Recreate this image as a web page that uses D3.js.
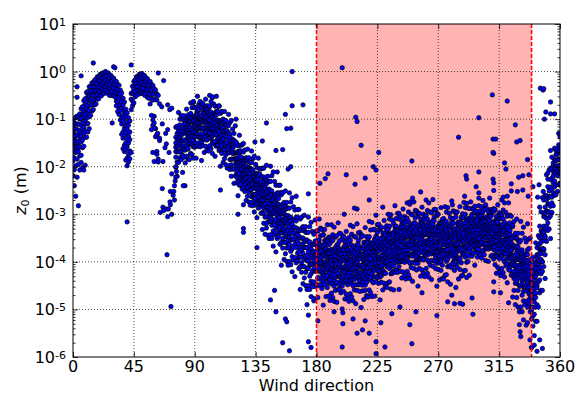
<!DOCTYPE html>
<html>
<head>
<meta charset="utf-8">
<script src="https://cdn.jsdelivr.net/npm/d3@7/dist/d3.min.js"></script>
<style>
  body { margin: 0; background: #fff; }
  svg text { font-family: "DejaVu Sans", sans-serif; fill: #000; }
</style>
</head>
<body>
<svg id="chart" width="577" height="397"></svg>
<script>
// roughness length as log10(z0 / m), grouped by wind direction (deg)
// each entry: [direction, [log10 z0 values seen at that direction]]
var northHump = [
  [0,[-1.03,-1.24,-1.33,-1.51,-1.58,-1.8,-1.88,-2.19,-1.41,-1.12]],
  [1,[-1.08,-1.31,-1.49,-1.69,-1.82,-2.06,-1.4,-2.4,-1.21]],
  [2,[-0.96,-1.2,-1.35,-1.61,-1.7,-1.98,-2.62,-1.47]],
  [3,[-0.94,-1.1,-1.33,-1.52,-1.84,-1.63,-2.22,-0.32,-0.54]],
  [4,[-0.93,-1.11,-1.23,-1.46,-1.68,-1.95,-2.82,-1.57]],
  [5,[-0.89,-1.0,-1.27,-1.37,-1.58,-1.77,-2.07]],
  [6,[-0.09,-0.78,-0.99,-1.13,-1.35,-1.48,-1.76,-1.91]],
  [7,[-0.74,-0.88,-1.08,-1.21,-1.44,-1.6,-2.02]],
  [8,[-0.61,-0.84,-0.95,-1.17,-1.3,-1.57,-2.07]],
  [9,[-0.57,-0.68,-0.9,-1.03,-1.25,-1.38,-1.97]],
  [10,[-0.44,-0.63,-0.77,-0.97,-1.1,-1.38]],
  [11,[-0.42,-0.52,-0.72,-0.86,-1.09,-1.27]],
  [12,[-0.32,-0.51,-0.61,-0.82,-0.95,-1.2]],
  [13,[-0.31,-0.42,-0.6,-0.71,-0.92]],
  [14,[-0.24,-0.41,-0.5,-0.7,-0.83]],
  [15,[0.18,-0.23,-0.33,-0.5,-0.61,-0.8]],
  [16,[-0.18,-0.33,-0.41,-0.58,-0.7]],
  [17,[-0.16,-0.25,-0.4,-0.5,-0.68]],
  [18,[-0.11,-0.25,-0.33,-0.49,-0.58]],
  [19,[-0.11,-0.18,-0.33,-0.41,-0.57]],
  [20,[-0.06,-0.19,-0.26,-0.42,-0.5]],
  [21,[-0.06,-0.13,-0.27,-0.35,-0.51]],
  [22,[-0.03,-0.16,-0.22,-0.37,-0.44]],
  [23,[-0.04,-0.1,-0.24,-0.31,-0.46]],
  [24,[0.0,-0.12,-0.18,-0.33,-0.4]],
  [25,[-0.04,-0.1,-0.24,-0.3,-0.45]],
  [26,[-0.03,-0.16,-0.22,-0.37,-0.43]],
  [27,[-0.07,-0.14,-0.28,-0.35,-0.5]],
  [28,[-0.08,-0.21,-0.27,-0.42,-0.5]],
  [29,[-0.13,-0.2,-0.34,-0.42,-1.08]],
  [30,[0.1,-0.14,-0.28,-0.35,-0.51]],
  [31,[0.08,-0.2,-0.28,-0.44,-0.53]],
  [32,[-0.21,-0.37,-0.45,-0.62,-0.72]],
  [33,[-0.27,-0.38,-0.55,-0.64,-0.84]],
  [34,[-0.29,-0.47,-0.58,-0.77,-0.9]],
  [35,[-0.39,-0.5,-0.7,-0.82,-1.02]],
  [36,[-0.45,-0.64,-0.76,-0.97,-1.1,-1.32]],
  [37,[-0.56,-0.7,-0.92,-1.05,-1.27,-1.4,-1.62]],
  [38,[-0.64,-0.84,-0.98,-1.19,-1.33,-1.55,-1.68]],
  [39,[-0.79,-0.93,-1.14,-1.28,-1.5,-1.64,-1.86]],
  [40,[-0.87,-1.07,-1.2,-1.42,-1.58,-1.82,-1.98,-3.16]],
  [41,[-0.97,-1.13,-1.36,-1.5,-1.74,-1.9]],
  [42,[-1.04,-1.27,-1.43,-1.67,-1.83]]
];

var eastHump = [
  [43,[-0.46,-0.58,-0.8,0.14,-1.7]],
  [44,[-0.31,-0.44,-0.62,-0.72]],
  [45,[-0.21,-0.37,-0.47,-0.66]],
  [46,[-0.17,-0.26,-0.42,-0.53]],
  [47,[-0.11,-0.24,-0.33,-0.5]],
  [48,[-0.1,-0.17,-0.32,-0.4]],
  [49,[-0.06,-0.18,-0.25,-0.4,-0.47]],
  [50,[-0.06,-0.13,-0.28,-0.35,-0.44]],
  [51,[-0.04,-0.16,-0.23,-0.38,-0.46]],
  [52,[-0.08,-0.14,-0.29,-0.36,-0.45]],
  [53,[-0.09,-0.21,-0.28,-0.44,-0.5]],
  [54,[-0.14,-0.21,-0.37,-0.45]],
  [55,[-0.15,-0.29,-0.38,-0.54]],
  [56,[-0.2,-0.29,-0.46,-0.56]],
  [57,[-0.21,-0.37,-0.48,-0.68]],
  [58,[-0.27,-0.38,-0.57,-0.92]],
  [59,[-0.29,-0.47,-0.6,-1.02,-1.13]],
  [60,[-0.36,-0.48,-0.94,-1.08]],
  [61,[-0.39,-0.58,-1.2,-1.37]],
  [62,[-0.47,-0.6,-1.32,-1.68]],
  [63,[-0.5,-0.03,-1.84,-1.9]],
  [64,[-0.68,-1.45]]
];

var eastCluster = [
  [76,[-1.59,-1.8,-1.38,-2.01,-1.17,-1.68,-1.5]],
  [77,[-1.57,-1.3,-1.69,-1.9,-1.15,-2.2,-1.42]],
  [78,[-1.67,-1.19,-1.43,-1.91,-1.25,-1.55,-0.86]],
  [79,[-1.51,-1.3,-1.69,-1.12,-1.81,-1.39,-1.0]],
  [80,[-1.25,-1.46,-1.67,-0.92,-1.85,-1.34,-1.58]],
  [81,[-1.46,-1.19,-1.76,-1.31,-1.01,-1.61,-2.12]],
  [82,[-1.65,-1.26,-1.44,-0.93,-1.56,-1.11,-1.8]],
  [83,[-1.44,-1.2,-1.65,-1.02,-1.92,-1.29,-1.08]],
  [84,[-1.21,-1.6,-1.3,-1.03,-1.48,-1.78,-0.79,-1.18,-1.57,-1.27,-1.0]],
  [85,[-1.24,-1.63,-1.0,-1.39,-1.84,-1.12,-0.91,-1.22,-1.61,-0.98,-1.37]],
  [86,[-1.19,-1.52,-1.07,-1.4,-0.95,-1.85,-1.31,-1.17,-1.5,-1.05,-1.38]],
  [87,[-1.47,-1.2,-0.9,-1.74,-1.05,-1.35,-0.66,-1.45,-1.18,-0.88,-1.72]],
  [88,[-1.0,-1.36,-1.24,-1.54,-0.76,-1.75,-1.06,-0.98,-1.34,-1.22,-1.52]],
  [89,[-1.07,-1.31,-0.65,-1.46,-1.16,-1.58,-1.82,-1.05,-1.29,-0.63,-1.44]],
  [90,[-1.17,-1.38,-0.96,-1.59,-0.75,-1.26,-1.08,-1.15,-1.36,-0.94,-1.57]],
  [91,[-1.19,-0.92,-1.31,-1.52,-0.77,-1.82,-1.04,-1.17,-0.9,-1.29,-1.5]],
  [92,[-1.33,-0.85,-1.09,-1.57,-0.91,-1.21,-0.52,-1.31,-0.83,-1.07,-1.55]],
  [93,[-1.2,-0.99,-1.38,-0.81,-1.5,-1.08,-0.69,-1.18,-0.97,-1.36,-0.79]],
  [94,[-0.98,-1.19,-1.4,-0.65,-1.58,-1.07,-1.31,-0.96,-1.17,-1.38,-0.63]],
  [95,[-1.21,-0.94,-1.51,-1.06,-0.76,-1.36,-1.87,-1.19,-0.92,-1.49,-1.04]],
  [96,[-1.41,-1.02,-1.2,-0.69,-1.32,-0.87,-1.56,-1.39,-1.0,-1.18,-0.67]],
  [97,[-1.22,-0.98,-1.43,-0.8,-1.7,-1.07,-0.86,-1.2,-0.96,-1.41,-0.78]],
  [98,[-1.0,-1.39,-1.09,-0.82,-1.27,-1.57,-0.58,-0.98,-1.37,-1.07,-0.8]],
  [99,[-1.05,-1.44,-0.81,-1.2,-1.65,-0.93,-0.72,-1.03,-1.42,-0.79,-1.18]],
  [100,[-1.01,-1.34,-0.89,-1.22,-0.77,-1.67,-1.13,-0.99,-1.32,-0.87,-1.2]],
  [101,[-1.31,-1.04,-0.74,-1.58,-0.89,-1.19,-0.5,-1.29,-1.02,-0.72,-1.56]],
  [102,[-0.87,-1.23,-1.11,-1.41,-0.63,-1.62,-0.93,-0.85,-1.21,-1.09,-1.39]],
  [103,[-0.97,-1.21,-0.55,-1.36,-1.06,-1.48,-1.72,-0.95,-1.19,-0.53,-1.34]],
  [104,[-1.1,-1.31,-0.89,-1.52,-0.68,-1.19,-1.01,-1.09,-1.3,-0.88,-1.51]],
  [105,[-1.15,-0.88,-1.27,-1.48,-0.73,-1.78,-1.0,-1.14,-0.87,-1.26,-1.47]],
  [106,[-1.33,-0.85,-1.09,-1.57,-0.91,-1.21,-0.52,-1.32,-0.84,-1.08,-1.56]],
  [107,[-1.24,-1.03,-1.42,-0.85,-1.54,-1.12,-0.73,-1.23,-1.02,-1.41,-0.84]],
  [108,[-1.06,-1.27,-1.48,-0.73,-1.66,-1.15,-1.39,-1.05,-1.26,-1.47,-0.72]],
  [109,[-1.33,-1.06,-1.63,-1.18,-0.88,-1.48,-1.99,-1.32,-1.05,-1.62,-1.17]],
  [110,[-1.57,-1.18,-1.36,-0.85,-1.48,-1.03,-1.72,-1.56,-1.17,-1.35,-0.84]],
  [111,[-1.43,-1.19,-1.64,-1.01,-1.91,-1.28,-1.07,-1.42,-1.18,-1.63,-1.0]],
  [112,[-1.26,-1.65,-1.35,-1.08,-1.53,-1.83,-0.84,-1.25,-1.64,-1.34,-1.07]],
  [113,[-1.36,-1.75,-1.12,-1.51,-1.96,-1.24,-1.03]],
  [114,[-1.37,-1.7,-1.25,-1.58,-1.13,-2.03,-1.49]],
  [115,[-1.71,-1.44,-1.14,-1.98,-1.29,-1.59,-0.9]],
  [116,[-1.31,-1.67,-1.55,-1.85,-1.07,-2.06,-1.37]],
  [117,[-1.45,-1.69,-1.03,-1.84,-1.54,-1.96,-2.2]],
  [118,[-1.63,-1.84,-1.42,-2.05,-1.21,-1.72,-1.54]],
  [119,[-1.72,-1.45,-1.84,-2.05,-1.3,-2.35,-1.57]],
  [120,[-1.95,-1.47,-1.71,-2.19,-1.53,-1.83,-1.14]]
];

var southEastSlope = [
  [121,[-1.92,-2.13,-1.71,-2.34,-1.5,-2.01,-1.83,-1.83,-2.22,-1.92]],
  [122,[-1.98,-1.71,-2.1,-2.31,-1.56,-2.61,-1.83,-1.92,-2.31,-1.68]],
  [123,[-2.15,-1.67,-1.91,-2.39,-1.73,-2.03,-1.34,-1.91,-2.24,-1.79]],
  [124,[-2.06,-1.85,-2.24,-1.67,-2.36,-1.94,-1.55,-2.24,-1.97,-1.67]],
  [125,[-1.87,-2.08,-2.29,-1.54,-2.47,-1.96,-2.2,-1.81,-2.17,-2.05]],
  [126,[-2.14,-1.87,-2.44,-1.99,-1.69,-2.29,-2.8,-1.93,-2.17,-1.51]],
  [127,[-2.37,-1.98,-2.16,-1.65,-2.28,-1.83,-2.52,-2.07,-2.28,-1.86]],
  [128,[-2.23,-1.99,-2.44,-1.81,-2.71,-2.08,-1.87,-2.14,-1.87,-2.26]],
  [129,[-2.05,-2.44,-2.14,-1.87,-2.32,-2.62,-1.63,-2.32,-1.84,-2.08]],
  [130,[-2.14,-2.53,-1.9,-2.29,-2.74,-2.02,-1.81,-2.23,-2.02,-2.41]],
  [131,[-2.15,-2.48,-2.03,-2.36,-1.91,-2.81,-2.27,-2.06,-2.27,-2.48]],
  [132,[-2.48,-2.21,-1.91,-2.75,-2.06,-2.36,-1.67,-2.33,-2.06,-2.63]],
  [133,[-2.07,-2.43,-2.31,-2.61,-1.83,-2.82,-2.13,-2.58,-2.19,-2.37]],
  [134,[-2.2,-2.44,-1.78,-2.59,-2.29,-2.71,-2.95,-2.44,-2.2,-2.65]],
  [135,[-2.37,-2.58,-2.16,-2.79,-1.95,-2.46,-2.28,-2.28,-2.67,-2.37]],
  [136,[-2.44,-2.17,-2.56,-2.77,-2.02,-3.07,-2.29,-2.38,-2.77,-2.14]],
  [137,[-2.63,-2.15,-2.39,-2.87,-2.21,-2.51,-1.82,-2.39,-2.72,-2.27]],
  [138,[-2.55,-2.34,-2.73,-2.16,-2.85,-2.43,-2.04,-2.73,-2.46,-2.16]],
  [139,[-2.38,-2.59,-2.8,-2.05,-2.98,-2.47,-2.71,-2.32,-2.68,-2.56]],
  [140,[-2.66,-2.39,-2.96,-2.51,-2.21,-2.81,-3.32,-2.45,-2.69,-2.03]],
  [141,[-2.99,-2.47,-2.71,-2.03,-2.87,-2.27,-3.19,-2.6,-2.81,-2.39]],
  [142,[-2.78,-2.46,-3.06,-2.22,-3.42,-2.58,-2.3,-2.66,-2.39,-2.78]],
  [143,[-2.53,-3.05,-2.65,-2.29,-2.89,-3.29,-1.97,-2.84,-2.36,-2.6]],
  [144,[-2.64,-3.16,-2.32,-2.84,-3.44,-2.48,-2.2,-2.75,-2.54,-2.93]],
  [145,[-2.63,-3.07,-2.47,-2.91,-2.31,-3.51,-2.79,-2.57,-2.78,-2.99]],
  [146,[-3.07,-2.71,-2.31,-3.43,-2.51,-2.91,-1.99,-2.85,-2.58,-3.15]],
  [147,[-2.51,-2.99,-2.83,-3.23,-2.19,-3.51,-2.59,-3.1,-2.71,-2.89]],
  [148,[-2.67,-2.99,-2.11,-3.19,-2.79,-3.35,-3.67,-2.96,-2.72,-3.17]],
  [149,[-2.87,-3.15,-2.59,-3.43,-2.31,-2.99,-2.75,-2.79,-3.18,-2.88]],
  [150,[-2.95,-2.59,-3.11,-3.39,-2.39,-3.79,-2.75,-2.89,-3.28,-2.65]],
  [151,[-3.19,-2.55,-2.87,-3.51,-2.63,-3.03,-2.11,-2.9,-3.23,-2.78]],
  [152,[-3.07,-2.79,-3.31,-2.55,-3.47,-2.91,-2.39,-3.24,-2.97,-2.67]],
  [153,[-2.83,-3.11,-3.39,-2.39,-3.63,-2.95,-3.27,-2.83,-3.19,-3.07]],
  [154,[-3.19,-2.83,-3.59,-2.99,-2.59,-3.39,-4.07,-2.96,-3.2,-2.54]],
  [155,[-3.51,-2.99,-3.23,-2.55,-3.39,-2.79,-3.71,-3.12,-3.33,-2.91]],
  [156,[-3.31,-2.99,-3.59,-2.75,-3.95,-3.11,-2.83,-3.19,-2.92,-3.31]],
  [157,[-3.07,-3.59,-3.19,-2.83,-3.43,-3.83,-2.51,-3.38,-2.9,-3.14]],
  [158,[-3.19,-3.71,-2.87,-3.39,-3.99,-3.03,-2.75,-3.3,-3.09,-3.48]],
  [159,[-3.19,-3.63,-3.03,-3.47,-2.87,-4.07,-3.35,-3.13,-3.34,-3.55]],
  [160,[-3.63,-3.27,-2.87,-3.99,-3.07,-3.47,-2.55,-3.41,-3.14,-3.71]],
  [161,[-3.06,-3.54,-3.38,-3.78,-2.74,-4.06,-3.14]],
  [162,[-3.21,-3.53,-2.65,-3.73,-3.33,-3.89,-4.21]],
  [163,[-3.4,-3.68,-3.12,-3.96,-2.84,-3.52,-3.28]],
  [164,[-3.47,-3.11,-3.63,-3.91,-2.91,-4.31,-3.27]],
  [165,[-3.7,-3.06,-3.38,-4.02,-3.14,-3.54,-2.62]],
  [166,[-3.58,-3.3,-3.82,-3.06,-3.98,-3.42,-2.9]],
  [167,[-3.34,-3.62,-3.9,-2.9,-4.14,-3.46,-3.78]],
  [168,[-3.7,-3.34,-4.1,-3.5,-3.1,-3.9,-4.58]],
  [169,[-4.02,-3.5,-3.74,-3.06,-3.9,-3.3,-4.22]],
  [170,[-3.82,-3.5,-4.1,-3.26,-4.46,-3.62,-3.34]],
  [171,[-3.58,-4.1,-3.7,-3.34,-3.94,-4.34,-3.02]],
  [172,[-3.7,-4.22,-3.38,-3.9,-4.5,-3.54,-3.26]],
  [173,[-3.7,-4.14,-3.54,-3.98,-3.38,-4.58,-3.86]],
  [174,[-4.14,-3.78,-3.38,-4.5,-3.58,-3.98,-3.06]],
  [175,[-3.58,-4.06,-3.9,-4.3,-3.26,-4.58,-3.66]],
  [176,[-3.73,-4.05,-3.17,-4.25,-3.85,-4.41,-4.73]],
  [177,[-3.92,-4.2,-3.64,-4.48,-3.36,-4.04,-3.8]],
  [178,[-3.98,-3.62,-4.14,-4.42,-3.42,-4.82,-3.78]],
  [179,[-4.2,-3.56,-3.88,-4.52,-3.64,-4.04,-3.12]]
];

var shadedSector = [
  [180,[-3.91,-4.19,-3.63,-4.47,-3.35,-4.03,-3.79,-3.78,-4.17,-3.87,-3.6]],
  [181,[-3.91,-3.55,-4.07,-4.35,-3.35,-4.75,-3.71,-3.94,-4.33,-3.7,-4.09]],
  [182,[-4.18,-3.54,-3.86,-4.5,-3.62,-4.02,-3.1,-3.81,-4.14,-3.69,-4.02]],
  [183,[-3.97,-3.69,-4.21,-3.45,-4.37,-3.81,-3.29,-4.21,-3.94,-3.64,-4.48]],
  [184,[-3.76,-4.04,-4.32,-3.32,-4.56,-3.88,-4.2,-3.66,-4.02,-3.9,-4.2]],
  [185,[-4.03,-3.67,-4.43,-3.83,-3.43,-4.23,-4.91,-3.85,-4.09,-3.43,-4.24]],
  [186,[-4.28,-3.76,-4.0,-3.32,-4.16,-3.56,-4.48,-3.87,-4.08,-3.66,-4.29]],
  [187,[-4.09,-3.77,-4.37,-3.53,-4.73,-3.89,-3.61,-4.0,-3.73,-4.12,-4.33]],
  [188,[-3.78,-4.3,-3.9,-3.54,-4.14,-4.54,-3.22,-4.05,-3.57,-3.81,-4.29]],
  [189,[-3.92,-4.44,-3.6,-4.12,-4.72,-3.76,-3.48,-4.03,-3.82,-4.21,-3.64]],
  [190,[-3.93,-4.37,-3.77,-4.21,-3.61,-4.81,-4.09,-3.82,-4.03,-4.24,-3.49]],
  [191,[-4.3,-3.94,-3.54,-4.66,-3.74,-4.14,-3.22,-4.16,-3.89,-4.46,-4.01]],
  [192,[-3.75,-4.23,-4.07,-4.47,-3.43,-4.75,-3.83,-4.27,-3.88,-4.06,-3.55]],
  [193,[-3.83,-4.15,-3.27,-4.35,-3.95,-4.51,-4.83,-4.19,-3.95,-4.4,-3.77]],
  [194,[-4.04,-4.32,-3.76,-4.6,-3.48,-4.16,-3.92,-3.88,-4.27,-3.97,-3.7]],
  [195,[-4.01,-3.65,-4.17,-4.45,-3.45,-4.85,-3.81,-4.04,-4.43,-3.8,-4.19]],
  [196,[-4.26,-3.62,-3.94,-4.58,-3.7,-4.1,-3.18,-3.91,-4.24,-3.79,-4.12]],
  [197,[-4.08,-3.8,-4.32,-3.56,-4.48,-3.92,-3.4,-4.31,-4.04,-3.74,-4.58]],
  [198,[-3.85,-4.13,-4.41,-3.41,-4.65,-3.97,-4.29,-3.76,-4.12,-4.0,-4.3]],
  [199,[-4.11,-3.75,-4.51,-3.91,-3.51,-4.31,-4.99,-3.95,-4.19,-3.53,-4.34]],
  [200,[-4.42,-3.9,-4.14,-3.46,-4.3,-3.7,-4.62,-3.97,-4.18,-3.76,-4.39]],
  [201,[-4.14,-3.82,-4.42,-3.58,-4.78,-3.94,-3.66,-4.1,-3.83,-4.22,-4.43]],
  [202,[-3.92,-4.44,-4.04,-3.68,-4.28,-4.68,-3.36,-4.15,-3.67,-3.91,-4.39]],
  [203,[-3.96,-4.48,-3.64,-4.16,-4.76,-3.8,-3.52,-4.13,-3.92,-4.31,-3.74]],
  [204,[-3.95,-4.39,-3.79,-4.23,-3.63,-4.83,-4.11,-3.82,-4.03,-4.24,-3.49]],
  [205,[-4.31,-3.95,-3.55,-4.67,-3.75,-4.15,-3.23,-4.11,-3.84,-4.41,-3.96]],
  [206,[-3.74,-4.22,-4.06,-4.46,-3.42,-4.74,-3.82,-4.37,-3.98,-4.16,-3.65]],
  [207,[-3.82,-4.14,-3.26,-4.34,-3.94,-4.5,-4.82,-4.09,-3.85,-4.3,-3.67]],
  [208,[-4.03,-4.31,-3.75,-4.59,-3.47,-4.15,-3.91,-3.98,-4.37,-4.07,-3.8]],
  [209,[-4.04,-3.68,-4.2,-4.48,-3.48,-4.88,-3.84,-3.94,-4.33,-3.7,-4.09]],
  [210,[-4.28,-3.64,-3.96,-4.6,-3.72,-4.12,-3.2,-4.01,-4.34,-3.89,-4.22]],
  [211,[-4.07,-3.79,-4.31,-3.55,-4.47,-3.91,-3.39,-4.21,-3.94,-3.64,-4.48]],
  [212,[-3.82,-4.1,-4.38,-3.38,-4.62,-3.94,-4.26,-3.86,-4.22,-4.1,-4.4]],
  [213,[-4.08,-3.72,-4.48,-3.88,-3.48,-4.28,-4.96,-3.85,-4.09,-3.43,-4.24]],
  [214,[-4.41,-3.89,-4.13,-3.45,-4.29,-3.69,-4.61,-4.07,-4.28,-3.86,-4.49]],
  [215,[-4.15,-3.83,-4.43,-3.59,-4.79,-3.95,-3.67,-4.0,-3.73,-4.12,-4.33]],
  [216,[-3.84,-4.36,-3.96,-3.6,-4.2,-4.6,-3.28,-4.25,-3.77,-4.01,-4.49]],
  [217,[-3.91,-4.43,-3.59,-4.11,-4.71,-3.75,-3.47,-4.03,-3.82,-4.21,-3.64]],
  [218,[-3.86,-4.3,-3.7,-4.14,-3.54,-4.74,-4.02,-3.92,-4.13,-4.34,-3.59]],
  [219,[-4.23,-3.87,-3.47,-4.59,-3.67,-4.07,-3.15,-4.06,-3.79,-4.36,-3.91]],
  [220,[-3.65,-4.13,-3.97,-4.37,-3.33,-4.65,-3.73,-4.32,-3.93,-4.11,-3.6]],
  [221,[-3.73,-4.05,-3.17,-4.25,-3.85,-4.41,-4.73,-4.04,-3.8,-4.25,-3.62]],
  [222,[-3.88,-4.16,-3.6,-4.44,-3.32,-4.0,-3.76,-3.78,-4.17,-3.87,-3.6]],
  [223,[-3.88,-3.52,-4.04,-4.32,-3.32,-4.72,-3.68,-3.79,-4.18,-3.55,-3.94]],
  [224,[-4.1,-3.46,-3.78,-4.42,-3.54,-3.94,-3.02,-3.81,-4.14,-3.69,-4.02]],
  [225,[-3.9,-3.62,-4.14,-3.38,-4.3,-3.74,-3.22,-4.06,-3.79,-3.49,-4.33]],
  [226,[-3.65,-3.93,-4.21,-3.21,-4.45,-3.77,-4.09,-3.66,-4.02,-3.9,-4.2]],
  [227,[-3.92,-3.56,-4.32,-3.72,-3.32,-4.12,-4.8,-3.7,-3.94,-3.28,-4.09]],
  [228,[-4.23,-3.71,-3.95,-3.27,-4.11,-3.51,-4.43,-3.87,-4.08,-3.66,-4.29]],
  [229,[-3.95,-3.63,-4.23,-3.39,-4.59,-3.75,-3.47,-3.85,-3.58,-3.97,-4.18]],
  [230,[-3.69,-4.21,-3.81,-3.45,-4.05,-4.45,-3.13,-4.0,-3.52,-3.76,-4.24]],
  [231,[-3.72,-4.24,-3.4,-3.92,-4.52,-3.56,-3.28,-3.83,-3.62,-4.01,-3.44]],
  [232,[-3.66,-4.1,-3.5,-3.94,-3.34,-4.54,-3.82,-3.57,-3.78,-3.99,-3.24]],
  [233,[-4.08,-3.72,-3.32,-4.44,-3.52,-3.92,-3.0,-3.81,-3.54,-4.11,-3.66]],
  [234,[-3.42,-3.9,-3.74,-4.14,-3.1,-4.42,-3.5,-3.97,-3.58,-3.76,-3.25]],
  [235,[-3.57,-3.89,-3.01,-4.09,-3.69,-4.25,-4.57,-3.84,-3.6,-4.05,-3.42]],
  [236,[-3.68,-3.96,-3.4,-4.24,-3.12,-3.8,-3.56,-3.58,-3.97,-3.67,-3.4]],
  [237,[-3.75,-3.39,-3.91,-4.19,-3.19,-4.59,-3.55,-3.69,-4.08,-3.45,-3.84]],
  [238,[-3.9,-3.26,-3.58,-4.22,-3.34,-3.74,-2.82,-3.61,-3.94,-3.49,-3.82]],
  [239,[-3.77,-3.49,-4.01,-3.25,-4.17,-3.61,-3.09,-3.91,-3.64,-3.34,-4.18]],
  [240,[-3.42,-3.7,-3.98,-2.98,-4.22,-3.54,-3.86,-3.36,-3.72,-3.6,-3.9]],
  [241,[-3.7,-3.34,-4.1,-3.5,-3.1,-3.9,-4.58,-3.4,-3.64,-2.98,-3.79]],
  [242,[-4.0,-3.48,-3.72,-3.04,-3.88,-3.28,-4.2,-3.57,-3.78,-3.36,-3.99]],
  [243,[-3.7,-3.38,-3.98,-3.14,-4.34,-3.5,-3.22,-3.55,-3.28,-3.67,-3.88]],
  [244,[-3.45,-3.97,-3.57,-3.21,-3.81,-4.21,-2.89,-3.75,-3.27,-3.51,-3.99]],
  [245,[-3.49,-4.01,-3.17,-3.69,-4.29,-3.33,-3.05,-3.58,-3.37,-3.76,-3.19]],
  [246,[-3.48,-3.92,-3.32,-3.76,-3.16,-4.36,-3.64,-3.42,-3.63,-3.84,-3.09]],
  [247,[-3.84,-3.48,-3.08,-4.2,-3.28,-3.68,-2.76,-3.61,-3.34,-3.91,-3.46]],
  [248,[-3.27,-3.75,-3.59,-3.99,-2.95,-4.27,-3.35,-3.87,-3.48,-3.66,-3.15]],
  [249,[-3.35,-3.67,-2.79,-3.87,-3.47,-4.03,-4.35,-3.64,-3.4,-3.85,-3.22]],
  [250,[-3.56,-3.84,-3.28,-4.12,-3.0,-3.68,-3.44,-3.48,-3.87,-3.57,-3.3]],
  [251,[-3.57,-3.21,-3.73,-4.01,-3.01,-4.41,-3.37,-3.49,-3.88,-3.25,-3.64]],
  [252,[-3.82,-3.18,-3.5,-4.14,-3.26,-3.66,-2.74,-3.51,-3.84,-3.39,-3.72]],
  [253,[-3.6,-3.32,-3.84,-3.08,-4.0,-3.44,-2.92,-3.76,-3.49,-3.19,-4.03]],
  [254,[-3.37,-3.65,-3.93,-2.93,-4.17,-3.49,-3.81,-3.36,-3.72,-3.6,-3.9]],
  [255,[-3.63,-3.27,-4.03,-3.43,-3.03,-3.83,-4.51,-3.4,-3.64,-2.98,-3.79]],
  [256,[-3.94,-3.42,-3.66,-2.98,-3.82,-3.22,-4.14,-3.52,-3.73,-3.31,-3.94]],
  [257,[-3.66,-3.34,-3.94,-3.1,-4.3,-3.46,-3.18,-3.6,-3.33,-3.72,-3.93]],
  [258,[-3.41,-3.93,-3.53,-3.17,-3.77,-4.17,-2.85,-3.7,-3.22,-3.46,-3.94]],
  [259,[-3.44,-3.96,-3.12,-3.64,-4.24,-3.28,-3.0,-3.63,-3.42,-3.81,-3.24]],
  [260,[-3.43,-3.87,-3.27,-3.71,-3.11,-4.31,-3.59,-3.37,-3.58,-3.79,-3.04]],
  [261,[-3.78,-3.42,-3.02,-4.14,-3.22,-3.62,-2.7,-3.56,-3.29,-3.86,-3.41]],
  [262,[-3.24,-3.72,-3.56,-3.96,-2.92,-4.24,-3.32,-3.82,-3.43,-3.61,-3.1]],
  [263,[-3.32,-3.64,-2.76,-3.84,-3.44,-4.0,-4.32,-3.59,-3.35,-3.8,-3.17]],
  [264,[-3.51,-3.79,-3.23,-4.07,-2.95,-3.63,-3.39,-3.43,-3.82,-3.52,-3.25]],
  [265,[-3.53,-3.17,-3.69,-3.97,-2.97,-4.37,-3.33,-3.44,-3.83,-3.2,-3.59]],
  [266,[-3.77,-3.13,-3.45,-4.09,-3.21,-3.61,-2.69,-3.46,-3.79,-3.34,-3.67]],
  [267,[-3.58,-3.3,-3.82,-3.06,-3.98,-3.42,-2.9,-3.71,-3.44,-3.14,-3.98]],
  [268,[-3.34,-3.62,-3.9,-2.9,-4.14,-3.46,-3.78,-3.31,-3.67,-3.55,-3.85]],
  [269,[-3.63,-3.27,-4.03,-3.43,-3.03,-3.83,-4.51,-3.4,-3.64,-2.98,-3.79]],
  [270,[-3.96,-3.44,-3.68,-3.0,-3.84,-3.24,-4.16,-3.57,-3.78,-3.36,-3.99]],
  [271,[-3.74,-3.42,-4.02,-3.18,-4.38,-3.54,-3.26,-3.55,-3.28,-3.67,-3.88]],
  [272,[-3.42,-3.94,-3.54,-3.18,-3.78,-4.18,-2.86,-3.75,-3.27,-3.51,-3.99]],
  [273,[-3.55,-4.07,-3.23,-3.75,-4.35,-3.39,-3.11,-3.58,-3.37,-3.76,-3.19]],
  [274,[-3.48,-3.92,-3.32,-3.76,-3.16,-4.36,-3.64,-3.42,-3.63,-3.84,-3.09]],
  [275,[-3.92,-3.56,-3.16,-4.28,-3.36,-3.76,-2.84,-3.61,-3.34,-3.91,-3.46]],
  [276,[-3.27,-3.75,-3.59,-3.99,-2.95,-4.27,-3.35,-3.87,-3.48,-3.66,-3.15]],
  [277,[-3.42,-3.74,-2.86,-3.94,-3.54,-4.1,-4.42,-3.64,-3.4,-3.85,-3.22]],
  [278,[-3.54,-3.82,-3.26,-4.1,-2.98,-3.66,-3.42,-3.48,-3.87,-3.57,-3.3]],
  [279,[-3.63,-3.27,-3.79,-4.07,-3.07,-4.47,-3.43,-3.49,-3.88,-3.25,-3.64]],
  [280,[-3.8,-3.16,-3.48,-4.12,-3.24,-3.64,-2.72,-3.51,-3.84,-3.39,-3.72]],
  [281,[-3.61,-3.33,-3.85,-3.09,-4.01,-3.45,-2.93,-3.76,-3.49,-3.19,-4.03]],
  [282,[-3.38,-3.66,-3.94,-2.94,-4.18,-3.5,-3.82,-3.36,-3.72,-3.6,-3.9]],
  [283,[-3.66,-3.3,-4.06,-3.46,-3.06,-3.86,-4.54,-3.4,-3.64,-2.98,-3.79]],
  [284,[-3.91,-3.39,-3.63,-2.95,-3.79,-3.19,-4.11,-3.52,-3.73,-3.31,-3.94]],
  [285,[-3.72,-3.4,-4.0,-3.16,-4.36,-3.52,-3.24,-3.6,-3.33,-3.72,-3.93]],
  [286,[-3.4,-3.92,-3.52,-3.16,-3.76,-4.16,-2.84,-3.7,-3.22,-3.46,-3.94]],
  [287,[-3.5,-4.02,-3.18,-3.7,-4.3,-3.34,-3.06,-3.58,-3.37,-3.76,-3.19]],
  [288,[-3.4,-3.84,-3.24,-3.68,-3.08,-4.28,-3.56,-3.32,-3.53,-3.74,-2.99]],
  [289,[-3.83,-3.47,-3.07,-4.19,-3.27,-3.67,-2.75,-3.56,-3.29,-3.86,-3.41]],
  [290,[-3.18,-3.66,-3.5,-3.9,-2.86,-4.18,-3.26,-3.72,-3.33,-3.51,-3.0]],
  [291,[-3.33,-3.65,-2.77,-3.85,-3.45,-4.01,-4.33,-3.54,-3.3,-3.75,-3.12]],
  [292,[-3.43,-3.71,-3.15,-3.99,-2.87,-3.55,-3.31,-3.28,-3.67,-3.37,-3.1]],
  [293,[-3.44,-3.08,-3.6,-3.88,-2.88,-4.28,-3.24,-3.34,-3.73,-3.1,-3.49]],
  [294,[-3.55,-3.07,-3.31,-3.79,-3.13,-3.43,-2.74,-3.26,-3.59,-3.14,-3.47]],
  [295,[-3.39,-3.18,-3.57,-3.0,-3.69,-3.27,-2.88,-3.61,-3.34,-3.04,-3.88]],
  [296,[-3.22,-3.43,-3.64,-2.89,-3.82,-3.31,-3.55,-3.11,-3.47,-3.35,-3.65]],
  [297,[-3.41,-3.14,-3.71,-3.26,-2.96,-3.56,-4.07,-3.25,-3.49,-2.83,-3.64]],
  [298,[-3.65,-3.26,-3.44,-2.93,-3.56,-3.11,-3.8,-3.32,-3.53,-3.11,-3.74]],
  [299,[-3.42,-3.18,-3.63,-3.0,-3.9,-3.27,-3.06,-3.4,-3.13,-3.52,-3.73]],
  [300,[-3.24,-3.63,-3.33,-3.06,-3.51,-3.81,-2.82,-3.5,-3.02,-3.26,-3.74]],
  [301,[-3.26,-3.65,-3.02,-3.41,-3.86,-3.14,-2.93,-3.43,-3.22,-3.61,-3.04]],
  [302,[-3.26,-3.59,-3.14,-3.47,-3.02,-3.92,-3.38,-3.17,-3.38,-3.59,-2.84]],
  [303,[-3.52,-3.25,-2.95,-3.79,-3.1,-3.4,-2.71,-3.46,-3.19,-3.76,-3.31]],
  [304,[-3.1,-3.46,-3.34,-3.64,-2.86,-3.85,-3.16,-3.62,-3.23,-3.41,-2.9]],
  [305,[-3.22,-3.46,-2.8,-3.61,-3.31,-3.73,-3.97,-3.49,-3.25,-3.7,-3.07]],
  [306,[-3.3,-3.51,-3.09,-3.72,-2.88,-3.39,-3.21,-3.23,-3.62,-3.32,-3.05]],
  [307,[-3.36,-3.09,-3.48,-3.69,-2.94,-3.99,-3.21,-3.34,-3.73,-3.1,-3.49]],
  [308,[-3.47,-2.99,-3.23,-3.71,-3.05,-3.35,-2.66,-3.26,-3.59,-3.14,-3.47]],
  [309,[-3.41,-3.2,-3.59,-3.02,-3.71,-3.29,-2.9,-3.61,-3.34,-3.04,-3.88]],
  [310,[-3.26,-3.47,-3.68,-2.93,-3.86,-3.35,-3.59,-3.16,-3.52,-3.4,-3.7]],
  [311,[-3.54,-3.18,-3.94,-3.34,-2.94,-3.74,-4.42,-3.3,-3.54,-2.88,-3.69]],
  [312,[-3.86,-3.34,-3.58,-2.9,-3.74,-3.14,-4.06,-3.47,-3.68,-3.26,-3.89]],
  [313,[-3.6,-3.28,-3.88,-3.04,-4.24,-3.4,-3.12,-3.45,-3.18,-3.57,-3.78]],
  [314,[-3.36,-3.88,-3.48,-3.12,-3.72,-4.12,-2.8,-3.65,-3.17,-3.41,-3.89]],
  [315,[-3.41,-3.93,-3.09,-3.61,-4.21,-3.25,-2.97,-3.48,-3.27,-3.66,-3.09]],
  [316,[-3.41,-3.85,-3.25,-3.69,-3.09,-4.29,-3.57,-3.32,-3.53,-3.74,-2.99]],
  [317,[-3.78,-3.42,-3.02,-4.14,-3.22,-3.62,-2.7,-3.56,-3.29,-3.86,-3.41]],
  [318,[-3.23,-3.71,-3.55,-3.95,-2.91,-4.23,-3.31,-3.82,-3.43,-3.61,-3.1]],
  [319,[-3.32,-3.64,-2.76,-3.84,-3.44,-4.0,-4.32,-3.59,-3.35,-3.8,-3.17]],
  [320,[-3.52,-3.8,-3.24,-4.08,-2.96,-3.64,-3.4,-3.43,-3.82,-3.52,-3.25]],
  [321,[-3.6,-3.24,-3.76,-4.04,-3.04,-4.44,-3.4,-3.54,-3.93,-3.3,-3.69]],
  [322,[-3.84,-3.2,-3.52,-4.16,-3.28,-3.68,-2.76,-3.56,-3.89,-3.44,-3.77]],
  [323,[-3.7,-3.42,-3.94,-3.18,-4.1,-3.54,-3.02,-3.91,-3.64,-3.34,-4.18]],
  [324,[-3.48,-3.76,-4.04,-3.04,-4.28,-3.6,-3.92,-3.51,-3.87,-3.75,-4.05]],
  [325,[-3.86,-3.5,-4.26,-3.66,-3.26,-4.06,-4.74,-3.65,-3.89,-3.23,-4.04]],
  [326,[-4.35,-3.7,-4.0,-3.15,-4.2,-3.45,-4.6,-3.87,-4.08,-3.66,-4.29]],
  [327,[-4.1,-3.7,-4.45,-3.4,-4.9,-3.85,-3.5,-3.95,-3.68,-4.07,-4.28]],
  [328,[-3.8,-4.45,-3.95,-3.5,-4.25,-4.75,-3.1,-4.15,-3.67,-3.91,-4.39]],
  [329,[-3.95,-4.6,-3.55,-4.2,-4.95,-3.75,-3.4,-4.08,-3.87,-4.26,-3.69]],
  [330,[-3.95,-4.5,-3.75,-4.3,-3.55,-5.05,-4.15,-3.92,-4.13,-4.34,-3.59]],
  [331,[-4.5,-4.05,-3.55,-4.95,-3.8,-4.3,-3.15,-4.21,-3.94,-4.51,-4.06]],
  [332,[-3.8,-4.4,-4.2,-4.7,-3.4,-5.05,-3.9,-4.47,-4.08,-4.26,-3.75]],
  [333,[-3.97,-4.37,-3.27,-4.62,-4.12,-4.82,-5.22,-4.31,-4.07,-4.52,-3.89]],
  [334,[-4.2,-4.55,-3.85,-4.9,-3.5,-4.35,-4.05,-4.13,-4.52,-4.22,-3.95]],
  [335,[-4.28,-3.83,-4.48,-4.83,-3.58,-5.33,-4.03,-4.22,-4.61,-3.98,-4.37]],
  [336,[-4.55,-3.75,-4.15,-4.95,-3.85,-4.35,-3.2,-4.21,-4.54,-4.09,-4.42]],
  [337,[-4.37,-4.02,-4.67,-3.72,-4.87,-4.17,-3.52,-4.53,-4.26,-3.96,-4.8]],
  [338,[-4.05,-4.4,-4.75,-3.5,-5.05,-4.2,-4.6,-4.11,-4.47,-4.35,-4.65]]
];

var northWestRise = [
  [339,[-4.7,-4.25,-5.2,-4.45,-3.95,-4.95,-5.8,-4.49,-5.01,-4.61]],
  [340,[-5.1,-4.45,-4.75,-3.9,-4.95,-4.2,-5.35,-4.62,-5.14,-4.3]],
  [341,[-4.75,-4.35,-5.1,-4.05,-5.55,-4.5,-4.15,-4.56,-4.84,-4.28]],
  [342,[-4.3,-4.95,-4.45,-4.0,-4.75,-5.25,-3.6,-4.5,-4.14,-4.66]],
  [343,[-4.25,-4.9,-3.85,-4.5,-5.25,-4.05,-3.7,-4.55,-3.91,-4.23]],
  [344,[-3.85,-4.4,-3.65,-4.2,-3.45,-4.95,-4.05,-3.86,-4.14,-4.42]],
  [345,[-4.2,-3.75,-3.25,-4.65,-3.5,-4.0,-2.85,-3.98,-3.62,-4.38]],
  [346,[-3.35,-3.95,-3.75,-4.25,-2.95,-4.6,-3.45,-4.11,-3.59,-3.83]],
  [347,[-3.35,-3.75,-2.65,-4.0,-3.5,-4.2,-4.6,-3.72,-3.4,-4.0]],
  [348,[-3.4,-3.75,-3.05,-4.1,-2.7,-3.55,-3.25,-3.73,-3.37,-2.97]],
  [349,[-3.3,-2.85,-3.5,-3.85,-2.6,-4.35,-3.05,-2.98,-3.46,-3.3]],
  [350,[-3.25,-2.61,-2.93,-3.57,-2.69,-3.09,-2.17]],
  [351,[-2.94,-2.66,-3.18,-2.42,-3.34,-2.78,-2.26]],
  [352,[-2.51,-2.79,-3.07,-2.07,-3.31,-2.63,-2.95]],
  [353,[-2.63,-2.27,-3.03,-2.43,-2.03,-2.83,-3.51]],
  [354,[-2.76,-2.24,-2.48,-1.8,-2.64,-2.04,-2.96]],
  [355,[-2.34,-2.1,-2.55,-1.92,-2.82,-2.19,-1.98]],
  [356,[-2.03,-2.42,-2.12,-1.85,-2.3,-2.6,-1.61]],
  [357,[-1.99,-2.38,-1.75,-2.14,-2.59,-1.87,-1.66]],
  [358,[-1.86,-2.19,-1.74,-2.07,-1.62,-2.52,-1.98]],
  [359,[-2.11,-1.84,-1.54,-2.38,-1.69,-1.99,-1.3]],
  [360,[-1.61,-1.97,-1.85,-2.15,-1.37,-2.36,-1.67]]
];

// single scattered points: [direction, log10 z0]
var scatteredPoints = [
  [65.6,-0.74],[67,-0.19],[70,-0.7],[71.5,-0.8],[73,-0.77],[58,-1.22],[60.6,-1.19],[62.6,-1.3],
  [64,-1.4],[59,-1.7],[66.5,-1.89],[69,-1.52],[70,-1.22],[68,-1.6],[71,-1.7],[66,-1.1],[68.5,-1.3],
  [62,-1.74],[60,-1.89],[73,-2.15],[72,-2.52],[66,-2.46],[66.5,-2.85],[69,-2.89],[64.5,-2.96],
  [70,-3.05],[75,-2.7],[82.8,-2.4],[81.5,-2.4],[76,-2.0],[76.5,-2.1],[76,-2.22],[75.5,-2.3],
  [75,-2.4],[74.5,-2.52],[74,-2.6],[72,-2.8],[70.5,-2.89],[67,-2.92],[71.7,-2.74],[73,-3.0],
  [69.5,-3.85],[72.4,-4.94],
  [162,0.0],[162,-0.72],[170,-0.7],[157,-0.9],[143,-1.08],[158,-1.2],[161,-1.19],[155,-1.64],
  [150,-1.66],[161,-2.0],[159,-2.05],[174,-2.57],[136,-3.7],[146,-4.8],[149,-4.6],[150,-5.05],
  [157,-5.2],[158,-5.26],[155,-5.7],[160,-5.87],[174,-5.68],[176,-5.8],[126,-3.3],[126,-3.38],
  [122,-3.0],[109,-2.49],[149,-3.22],[143,-3.2],[173,-4.9],[178,-4.77],[174,-5.12],[177,-4.52],
  [120.5,-1.0],[140,-1.46],[134.5,-1.48],
  [199,0.08],[188.5,-2.15],[186.5,-2.25],[182.5,-2.35],[202,-2.17],[208.5,-2.37],[200.5,-3.0],
  [216,-2.24],[219,-2.7],[208,-2.87],[210,-2.89],[222,-2.0],[224,-2.07],[226,-1.7],[229,-2.85],
  [250.5,-1.88],[249,-2.74],[251,-2.66],[257,-2.53],[209,-0.96],[210,-1.05],[213,-1.55],
  [181,-5.24],[193,-5.05],[199.5,-5.3],[199.5,-5.07],[207,-5.2],[210,-5.5],[214,-5.43],[219,-5.5],
  [216,-5.24],[227.6,-5.28],[224,-5.68],[230.6,-5.79],[199,-5.79],[224,-5.93],[235.7,-5.09],
  [249,-5.32],[250.5,-5.72],[253.5,-5.05],[241.7,-4.95],[258,-4.65],[269,-5.13],[277,-4.84],
  [280,-4.7],[282,-4.88],[286,-4.87],[288,-4.89],[295.6,-5.1],[295,-4.76],[311,-4.63],[316,-4.65],
  [322,-4.86],[330,-5.32],[330.5,-5.47],[331,-5.57],[336,-5.28],[337.8,-5.64],[339,-5.8],
  [341,-5.75],[343,-5.88],[345,-5.64],[347,-5.82],
  [310,-0.49],[321,-0.62],[300,-0.97],[327,-1.12],[285,-1.38],[310.5,-1.42],[312.5,-1.42],
  [328,-1.48],[330.5,-1.45],[311,-1.72],[310.5,-1.7],[336,-1.85],[319,-1.92],[300,-2.11],
  [320,-2.05],[290.5,-2.19],[291,-2.26],[310.5,-2.26],[311,-2.34],[329.5,-2.22],[332.5,-2.19],
  [337,-2.17],[324,-2.36],[298,-2.42],[311,-2.5],[300,-2.55],[300,-2.66],[289.5,-2.62],
  [324,-2.51],[328.5,-2.52],[332.5,-2.49],[318,-2.64],[336.5,-2.62],[321,-2.62],[280.5,-2.8],
  [345.5,-0.35],[347.5,-0.39],[348,-0.36],[353,-0.64],[349.5,-0.85],[353,-0.89],[356,-0.89],
  [348.5,-1.0],[353,-1.66],[351,-2.13],[344.5,-2.38],[347.6,-2.52],[340,-2.42],[343.5,-2.64]
];

var xTicks = [0, 45, 90, 135, 180, 225, 270, 315, 360];
var yExponents = [-6, -5, -4, -3, -2, -1, 0, 1];
var shadedRange = [180, 339];

var plot = {left: 73, right: 560, top: 24, bottom: 357};

function expand(sector) {
  return sector.flatMap(function(d) {
    return d[1].map(function(v) { return {dir: d[0], z0: Math.pow(10, v)}; });
  });
}

var points = [].concat(
  expand(northHump), expand(eastHump), expand(eastCluster),
  expand(southEastSlope), expand(shadedSector), expand(northWestRise),
  scatteredPoints.map(function(d) { return {dir: d[0], z0: Math.pow(10, d[1])}; })
);

var svg = d3.select("#chart");

var x = d3.scaleLinear().domain([0, 360]).range([plot.left, plot.right]);
var y = d3.scaleLog().domain([1e-6, 10]).range([plot.bottom, plot.top]);

svg.append("defs").append("clipPath").attr("id", "plot-clip")
  .append("rect")
    .attr("x", plot.left).attr("y", plot.top)
    .attr("width", plot.right - plot.left).attr("height", plot.bottom - plot.top);

// shaded direction sector
svg.append("rect")
  .attr("x", x(shadedRange[0]))
  .attr("y", plot.top)
  .attr("width", x(shadedRange[1]) - x(shadedRange[0]))
  .attr("height", plot.bottom - plot.top)
  .attr("fill", "#ffb3b3");

// scatter
svg.append("g")
  .attr("clip-path", "url(#plot-clip)")
  .selectAll("circle")
  .data(points)
  .enter()
  .append("circle")
    .attr("cx", function(d) { return x(d.dir); })
    .attr("cy", function(d) { return y(d.z0); })
    .attr("r", 2.2)
    .attr("fill", "#0000ff")
    .attr("stroke", "#000")
    .attr("stroke-width", 0.7);

// dotted grid
var grid = svg.append("g")
  .attr("stroke", "#000")
  .attr("stroke-width", 0.7)
  .attr("stroke-dasharray", "1,2");

grid.selectAll("line.gx")
  .data(xTicks.slice(1, -1))
  .enter().append("line")
    .attr("x1", function(d) { return x(d); }).attr("x2", function(d) { return x(d); })
    .attr("y1", plot.top).attr("y2", plot.bottom);

grid.selectAll("line.gy")
  .data(yExponents.slice(1, -1))
  .enter().append("line")
    .attr("y1", function(d) { return y(Math.pow(10, d)); })
    .attr("y2", function(d) { return y(Math.pow(10, d)); })
    .attr("x1", plot.left).attr("x2", plot.right);

// sector edges
svg.append("g").selectAll("line")
  .data(shadedRange)
  .enter().append("line")
    .attr("x1", function(d) { return x(d); }).attr("x2", function(d) { return x(d); })
    .attr("y1", plot.top).attr("y2", plot.bottom)
    .attr("stroke", "#ff0000")
    .attr("stroke-width", 1.5)
    .attr("stroke-dasharray", "4,2");

// axes with inward ticks (matplotlib classic look)
var minorY = [];
yExponents.slice(0, -1).forEach(function(e) {
  for (var m = 2; m <= 9; m++) minorY.push(m * Math.pow(10, e));
});
var majorY = yExponents.map(function(e) { return Math.pow(10, e); });

var axes = [
  svg.append("g").attr("transform", "translate(0," + plot.bottom + ")")
    .call(d3.axisBottom(x).tickValues(xTicks).tickSizeInner(-5).tickSizeOuter(0).tickFormat("")),
  svg.append("g").attr("transform", "translate(0," + plot.top + ")")
    .call(d3.axisTop(x).tickValues(xTicks).tickSizeInner(-5).tickSizeOuter(0).tickFormat("")),
  svg.append("g").attr("transform", "translate(" + plot.left + ",0)")
    .call(d3.axisLeft(y).tickValues(majorY).tickSizeInner(-5).tickSizeOuter(0).tickFormat("")),
  svg.append("g").attr("transform", "translate(" + plot.left + ",0)")
    .call(d3.axisLeft(y).tickValues(minorY).tickSizeInner(-2.5).tickSizeOuter(0).tickFormat("")),
  svg.append("g").attr("transform", "translate(" + plot.right + ",0)")
    .call(d3.axisRight(y).tickValues(majorY).tickSizeInner(-5).tickSizeOuter(0).tickFormat("")),
  svg.append("g").attr("transform", "translate(" + plot.right + ",0)")
    .call(d3.axisRight(y).tickValues(minorY).tickSizeInner(-2.5).tickSizeOuter(0).tickFormat(""))
];

axes.forEach(function(g) {
  g.select(".domain").remove();
  g.selectAll(".tick line").attr("stroke", "#000").attr("stroke-width", 0.8);
});

// frame
svg.append("rect")
  .attr("x", plot.left).attr("y", plot.top)
  .attr("width", plot.right - plot.left).attr("height", plot.bottom - plot.top)
  .attr("fill", "none").attr("stroke", "#000").attr("stroke-width", 1);

// tick labels
svg.append("g").selectAll("text")
  .data(xTicks)
  .enter().append("text")
    .attr("x", function(d) { return x(d); })
    .attr("y", plot.bottom + 15)
    .attr("text-anchor", "middle")
    .attr("font-size", 16)
    .text(function(d) { return d; });

var yLabels = svg.append("g").selectAll("text")
  .data(yExponents)
  .enter().append("text")
    .attr("x", 66)
    .attr("y", function(d) { return y(Math.pow(10, d)) + 6; })
    .attr("text-anchor", "end")
    .attr("font-size", 16);
yLabels.append("tspan").text("10");
yLabels.append("tspan")
  .attr("dy", -4.5)
  .attr("font-size", 11)
  .text(function(d) { return d < 0 ? "-" + Math.abs(d) : d; });

// axis titles
svg.append("text")
  .attr("x", (plot.left + plot.right) / 2)
  .attr("y", 391)
  .attr("text-anchor", "middle")
  .attr("font-size", 16)
  .text("Wind direction");

var yTitle = svg.append("text")
  .attr("transform", "translate(26," + ((plot.top + plot.bottom) / 2) + ") rotate(-90)")
  .attr("text-anchor", "middle")
  .attr("font-size", 16);
yTitle.append("tspan").attr("font-style", "italic").text("z");
yTitle.append("tspan").attr("font-size", 11).attr("dy", 3).text("0");
yTitle.append("tspan").attr("dy", -3).text(" (m)");
</script>
</body>
</html>
